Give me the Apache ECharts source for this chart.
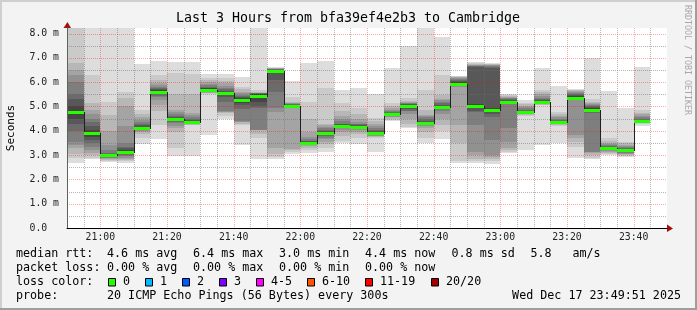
<!DOCTYPE html>
<html><head><meta charset="utf-8">
<script src="https://cdn.jsdelivr.net/npm/echarts@6/dist/echarts.min.js"></script>
<style>html,body{margin:0;padding:0;background:#f3f3f3}#c{width:697px;height:310px}</style>
</head><body><div id="c"></div><script>
// ---------------- data ----------------
const timeStart = '20:50';
const timeEnd = '23:50';
const slotEnd = ['20:55','21:00','21:05','21:10','21:15','21:20','21:25','21:30','21:35','21:40',
  '21:45','21:50','21:55','22:00','22:05','22:10','22:15','22:20','22:25','22:30',
  '22:35','22:40','22:45','22:50','22:55','23:00','23:05','23:10','23:15','23:20',
  '23:25','23:30','23:35','23:40','23:45'];
const medianRtt = [4.76,3.92,3.02,3.14,4.13,5.61,4.47,4.36,5.69,5.54,5.25,5.45,6.45,5.02,3.5,3.92,4.2,4.16,3.91,4.68,
  5.03,4.32,4.98,5.94,5.03,4.84,5.17,4.77,5.19,4.35,5.36,4.87,3.28,3.2,4.4];
// 20 sorted ping times (ms) per 5-minute slot
const smokePings = [
  [2.69,2.87,3.05,3.28,3.4,3.55,4.0,4.3,4.5,4.7,4.8,5.0,5.3,5.5,6.0,6.3,6.5,6.8,8.3,8.6],
  [2.82,2.9,3.0,3.07,3.2,3.35,3.5,3.62,3.75,3.9,3.95,4.05,4.2,4.38,4.5,4.7,4.85,5.13,6.3,8.6],
  [2.72,2.75,2.78,2.82,2.86,2.9,2.94,2.97,2.99,3.01,3.03,3.04,3.05,3.07,3.2,3.42,4.0,4.65,5.2,8.6],
  [2.69,2.74,2.8,2.85,2.9,2.95,3.0,3.05,3.08,3.12,3.16,3.2,3.28,3.35,3.48,4.2,5.0,5.33,5.6,8.6],
  [3.45,3.69,3.85,3.96,4.0,4.03,4.06,4.08,4.1,4.12,4.14,4.17,4.22,4.3,4.38,4.45,4.58,4.7,4.86,6.75],
  [3.66,4.24,4.8,5.06,5.25,5.38,5.45,5.5,5.55,5.6,5.63,5.67,5.72,5.78,5.82,5.88,5.95,6.09,6.3,6.89],
  [2.97,3.28,3.96,4.1,4.2,4.31,4.37,4.41,4.44,4.46,4.49,4.52,4.56,4.62,4.7,4.78,4.86,5.5,6.37,6.85],
  [2.97,4.22,4.25,4.27,4.29,4.31,4.32,4.34,4.35,4.36,4.38,4.41,4.45,4.5,4.58,4.65,4.72,5.5,6.32,6.85],
  [3.83,5.5,5.54,5.57,5.6,5.62,5.64,5.66,5.67,5.69,5.72,5.75,5.78,5.82,5.87,5.92,6.0,6.09,6.16,6.34],
  [4.5,4.62,4.72,4.76,4.78,4.8,5.2,5.4,5.48,5.52,5.56,5.6,5.65,5.7,5.78,5.85,5.95,6.05,6.16,6.34],
  [3.42,4.24,4.3,4.36,4.38,4.4,4.9,5.05,5.15,5.22,5.28,5.33,5.38,5.43,5.48,5.55,5.6,5.7,5.82,6.23],
  [2.82,3.69,3.85,4.03,4.04,4.05,4.92,5.0,5.2,5.38,5.5,5.52,5.53,5.54,5.55,5.56,5.57,5.58,5.68,8.5],
  [2.85,2.93,3.05,3.28,4.79,4.92,5.6,6.09,6.39,6.42,6.47,6.5,6.52,6.54,6.55,6.56,6.57,6.58,6.6,6.62],
  [3.05,3.14,3.21,3.25,4.92,4.94,4.96,4.98,5.0,5.01,5.03,5.05,5.07,5.1,5.12,5.14,5.16,5.17,5.4,6.05],
  [3.08,3.22,3.3,3.38,3.42,3.45,3.47,3.48,3.49,3.5,3.51,3.53,3.56,3.6,3.66,3.75,3.96,4.5,5.2,6.8],
  [3.14,3.3,3.45,3.55,3.65,3.72,3.8,3.85,3.88,3.91,3.94,3.97,4.0,4.05,4.1,4.16,4.22,4.26,5.75,6.89],
  [3.48,3.6,3.8,3.96,4.05,4.1,4.13,4.16,4.18,4.19,4.21,4.23,4.26,4.3,4.4,4.5,4.6,4.8,5.13,5.68],
  [3.46,3.7,3.85,3.96,4.02,4.06,4.09,4.11,4.13,4.15,4.17,4.19,4.22,4.26,4.3,4.38,4.5,4.7,4.92,5.75],
  [3.14,3.69,3.73,3.77,3.8,3.83,3.86,3.88,3.9,3.91,3.93,3.96,3.99,4.05,4.12,4.2,4.3,4.4,4.51,5.51],
  [4.4,4.45,4.5,4.55,4.58,4.6,4.62,4.64,4.66,4.67,4.69,4.71,4.74,4.76,4.8,4.86,4.92,5.0,5.13,6.6],
  [4.13,4.16,4.3,4.5,4.7,4.8,4.82,4.9,4.98,5.01,5.05,5.07,5.09,5.11,5.13,5.15,5.18,5.22,5.34,7.5],
  [3.48,3.7,3.95,4.1,4.2,4.25,4.28,4.3,4.31,4.32,4.33,4.35,4.4,4.5,4.55,4.6,4.65,4.86,5.68,8.5],
  [3.66,4.0,4.24,4.5,4.7,4.8,4.88,4.93,4.95,4.97,4.99,5.02,5.07,5.15,5.2,5.25,5.3,5.47,6.3,7.86],
  [2.68,2.75,3.5,4.24,5.8,5.84,5.86,5.88,5.9,5.93,5.96,6.0,6.04,6.08,6.12,6.16,6.2,6.22,6.24,6.27],
  [2.67,2.75,2.85,3.0,3.14,4.24,4.78,4.8,4.95,5.0,5.06,5.09,6.64,6.66,6.68,6.7,6.72,6.76,6.8,6.85],
  [2.65,2.75,2.85,2.93,3.0,3.62,4.58,4.7,4.78,4.82,4.86,4.92,6.6,6.64,6.68,6.7,6.72,6.74,6.76,6.78],
  [3.1,3.14,3.2,3.3,3.55,4.1,5.1,5.12,5.14,5.16,5.18,5.22,5.26,5.3,5.34,5.37,5.4,5.44,5.47,5.51],
  [3.21,4.62,4.66,4.69,4.71,4.73,4.74,4.75,4.76,4.77,4.78,4.8,4.83,4.87,4.92,4.98,5.04,5.09,5.13,5.27],
  [3.42,5.05,5.08,5.1,5.12,5.13,5.14,5.15,5.17,5.18,5.2,5.22,5.25,5.3,5.35,5.42,5.5,5.6,5.68,6.57],
  [3.5,4.18,4.22,4.26,4.28,4.3,4.32,4.33,4.34,4.35,4.36,4.38,4.41,4.45,4.5,4.56,4.62,4.7,4.76,5.84],
  [2.87,3.35,3.55,3.7,3.83,5.25,5.28,5.3,5.32,5.34,5.38,5.42,5.46,5.5,5.54,5.58,5.62,5.66,5.69,5.72],
  [2.83,2.9,3.0,3.08,3.12,3.14,4.75,4.8,4.83,4.85,4.89,4.93,4.98,5.02,5.06,5.1,5.13,5.2,5.31,6.98],
  [3.0,3.05,3.1,3.14,3.18,3.21,3.24,3.26,3.27,3.28,3.29,3.31,3.33,3.36,3.4,3.45,3.5,3.56,3.69,5.64],
  [2.93,2.96,3.0,3.03,3.06,3.1,3.13,3.16,3.18,3.2,3.22,3.24,3.27,3.3,3.34,3.38,3.42,3.48,3.55,4.92],
  [4.2,4.28,4.32,4.34,4.36,4.37,4.38,4.39,4.4,4.4,4.41,4.43,4.45,4.5,4.55,4.62,4.68,4.75,4.86,6.64]
];
const xMajorLabels = ['21:00','21:20','21:40','22:00','22:20','22:40','23:00','23:20','23:40'];
const yMajorTicks = [1,2,3,4,5,6,7,8];
const yMax = 8.23;
const lossLabels = ['0','1','2','3','4-5','6-10','11-19','20/20'];
const lossColors = ['#26ff00','#00b8ff','#0059ff','#7e00ff','#ff00ff','#ff5500','#ff0000','#a10000'];
const titleText = 'Last 3 Hours from bfa39ef4e2b3 to Cambridge';
const rttStats = ['4.6 ms avg','6.4 ms max','3.0 ms min','4.4 ms now','0.8 ms sd','5.8','am/s'];
const lossStats = ['0.00 % avg','0.00 % max','0.00 % min','0.00 % now'];
const probeText = '20 ICMP Echo Pings (56 Bytes) every 300s';
const dateText = 'Wed Dec 17 23:49:51 2025';

// ---------------- styling ----------------
const smokeColors = ['#dddddd','#cacaca','#b7b7b7','#a4a4a4','#919191','#7e7e7e','#6b6b6b','#585858','#454545','#323232'];
const MONO = '"DejaVu Sans Mono", monospace';
const G = {left: 67, top: 28, right: 667, bottom: 228};

const toMin = s => { const p = s.split(':').map(Number); return p[0] * 60 + p[1]; };
const xMin = toMin(timeStart), xMax = toMin(timeEnd);
const fmtTime = v => { const h = Math.floor(v / 60), m = v % 60; return (h < 10 ? '0' : '') + h + ':' + (m < 10 ? '0' : '') + m; };

const smokeData = smokePings.map((p, i) => [toMin(slotEnd[i])].concat(p));
const medianData = medianRtt.map((m, i) => [toMin(slotEnd[i]), m, i > 0 ? medianRtt[i - 1] : m, i]);
const majorX = xMajorLabels.map(toMin);
const gridData = [];
for (let t = xMin + 5; t < xMax; t += 5) if (majorX.indexOf(t) < 0) gridData.push([t, 0, 0]);
majorX.forEach(t => gridData.push([t, 0, 1]));
yMajorTicks.forEach(v => gridData.push([xMin, v - 0.5, 2]));
yMajorTicks.forEach(v => gridData.push([xMin, v, 3]));

function renderSmoke(params, api) {
  const cs = params.coordSys;
  const end = api.value(0), start = end - 5;
  const children = [];
  for (let b = 0; b < 10; b++) {
    const lo = api.value(1 + b), hi = api.value(20 - b);
    const p1 = api.coord([start, hi]), p2 = api.coord([end, lo]);
    const x1 = Math.round(p1[0]), x2 = Math.round(p2[0]);
    const y1 = Math.round(Math.max(p1[1], cs.y)), y2 = Math.round(Math.min(p2[1], cs.y + cs.height));
    if (y2 <= y1) continue;
    children.push({type: 'rect', shape: {x: x1, y: y1, width: x2 - x1, height: y2 - y1}, style: {fill: smokeColors[b]}});
  }
  return {type: 'group', children};
}
function renderGrid(params, api) {
  const cs = params.coordSys;
  const kind = api.value(2);
  const stroke = (kind % 2) ? 'rgba(255,0,0,0.35)' : 'rgba(110,110,110,0.5)';
  let shape;
  if (kind < 2) {
    const x = Math.round(api.coord([api.value(0), 0])[0]) + 0.5;
    shape = {x1: x, y1: cs.y, x2: x, y2: cs.y + cs.height};
  } else {
    const y = Math.round(api.coord([xMin, api.value(1)])[1]) + 0.5;
    shape = {x1: cs.x, y1: y, x2: cs.x + cs.width, y2: y};
  }
  return {type: 'line', shape, style: {stroke, lineWidth: 1, lineDash: [1, 1]}};
}
function renderMedian(params, api) {
  const end = api.value(0), start = end - 5, m = api.value(1), prev = api.value(2), idx = api.value(3);
  const p1 = api.coord([start, m]), p2 = api.coord([end, m]);
  const x1 = Math.round(p1[0]), x2 = Math.round(p2[0]), y = Math.round(p1[1]);
  const children = [];
  if (idx > 0) {
    const yp = Math.round(api.coord([start, prev])[1]);
    children.push({type: 'line', shape: {x1: x1 + 0.5, y1: Math.min(y, yp), x2: x1 + 0.5, y2: Math.max(y, yp) + 1},
      style: {stroke: '#202020', lineWidth: 1}});
  }
  children.push({type: 'rect', shape: {x: x1, y: y - 1, width: x2 - x1, height: 3}, style: {fill: lossColors[0]}});
  return {type: 'group', children};
}

// ---------------- graphics (text / frame) ----------------
const graphics = [];
const txt = (x, y, text, extra) => graphics.push(Object.assign({type: 'text', x, y, silent: true,
  style: Object.assign({text, fill: '#000', fontFamily: MONO, fontSize: 11.7, textVerticalAlign: 'middle', textAlign: 'left'}, extra || {})}));
// frame shading
graphics.push({type: 'rect', shape: {x: 0, y: 0, width: 697, height: 2}, style: {fill: '#cfcfcf'}});
graphics.push({type: 'rect', shape: {x: 0, y: 0, width: 2, height: 310}, style: {fill: '#cfcfcf'}});
graphics.push({type: 'rect', shape: {x: 0, y: 308, width: 697, height: 2}, style: {fill: '#9e9e9e'}});
graphics.push({type: 'rect', shape: {x: 695, y: 0, width: 2, height: 310}, style: {fill: '#9e9e9e'}});
// title
txt(348, 19, titleText, {fontSize: 13.3, textAlign: 'center'});
// watermark
graphics.push({type: 'text', x: 687, y: 60, rotation: -Math.PI / 2, silent: true,
  style: {text: 'RRDTOOL / TOBI OETIKER', fill: '#a8a8a8', fontFamily: MONO, fontSize: 8.3, textAlign: 'center', textVerticalAlign: 'middle'}});
// legend lines
const rttX = [107, 193, 279, 365, 451.5, 530.5, 572.5];
txt(16, 254, 'median rtt:');
rttStats.forEach((s, i) => txt(rttX[i], 254, s));
txt(16, 268, 'packet loss:');
lossStats.forEach((s, i) => txt(rttX[i], 268, s));
txt(16, 282, 'loss color:');
const boxX = [108.5, 145.5, 182.5, 219.5, 256.5, 307.5, 365.5, 431.5];
lossLabels.forEach((s, i) => {
  graphics.push({type: 'rect', silent: true, shape: {x: boxX[i], y: 278.5, width: 7, height: 7.5},
    style: {fill: lossColors[i], stroke: '#000', lineWidth: 1}});
  txt(boxX[i] + 14.5, 282, s);
});
txt(16, 296, 'probe:');
txt(107, 296, probeText);
txt(681, 296, dateText, {textAlign: 'right'});
// axis arrows
graphics.push({type: 'polygon', silent: true, shape: {points: [[G.right, G.bottom - 3.5], [G.right + 6, G.bottom + 0.5], [G.right, G.bottom + 4]]}, style: {fill: '#a01010'}});
graphics.push({type: 'polygon', silent: true, shape: {points: [[G.left - 3.5, G.top], [G.left + 0.5, G.top - 6], [G.left + 4, G.top]]}, style: {fill: '#a01010'}});

const chart = echarts.init(document.getElementById('c'), null, {renderer: 'canvas'});
chart.setOption({
  animation: false,
  backgroundColor: '#f3f3f3',
  grid: {left: G.left, top: G.top, right: 697 - G.right, bottom: 310 - G.bottom, show: true, backgroundColor: '#ffffff',
    borderWidth: 0, containLabel: false, outerBoundsMode: 'none'},
  xAxis: {
    type: 'value', min: xMin, max: xMax, interval: 5, z: 10,
    axisLine: {show: true, lineStyle: {color: '#000', width: 1}},
    axisTick: {show: false}, splitLine: {show: false},
    axisLabel: {margin: 4, color: '#222', fontFamily: MONO, fontSize: 9.8,
      formatter: v => (majorX.indexOf(v) >= 0 ? fmtTime(v) : '')}
  },
  yAxis: {
    type: 'value', min: 0, max: yMax, interval: 1, z: 10,
    name: 'Seconds', nameLocation: 'middle', nameGap: 50, nameRotate: 90,
    nameTextStyle: {fontFamily: MONO, fontSize: 11, color: '#000'},
    axisLine: {show: true, lineStyle: {color: '#606060', width: 1}},
    axisTick: {show: false}, splitLine: {show: false},
    axisLabel: {margin: 8, color: '#222', fontFamily: MONO, fontSize: 9.8, showMaxLabel: false,
      formatter: v => (Math.abs(v - Math.round(v)) > 1e-6 ? '' : (v === 0 ? '0.0  ' : v.toFixed(1) + ' m'))}
  },
  series: [
    {type: 'custom', name: 'smoke', data: smokeData, renderItem: renderSmoke, z: 2, silent: true, encode: {x: 0, y: 1}},
    {type: 'custom', name: 'grid', data: gridData, renderItem: renderGrid, z: 3, silent: true, encode: {x: 0, y: 1}},
    {type: 'custom', name: 'median', data: medianData, renderItem: renderMedian, z: 4, silent: true, encode: {x: 0, y: 1}}
  ],
  graphic: graphics
});
</script></body></html>
